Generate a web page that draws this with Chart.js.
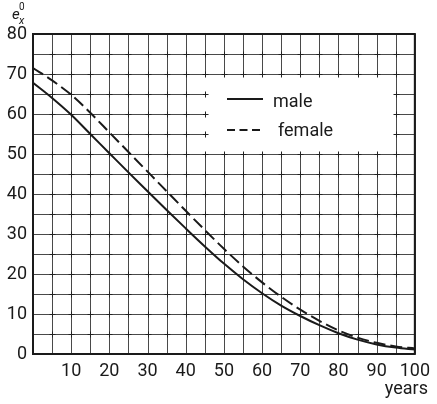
<!DOCTYPE html>
<html>
<head>
<meta charset="utf-8">
<script src="https://cdn.jsdelivr.net/npm/chart.js@4.4.1/dist/chart.umd.min.js"></script>
<style>
html,body{margin:0;padding:0;background:#fff;}
#wrap{width:437px;height:404px;position:relative;}
</style>
</head>
<body>
<div id="wrap"><canvas id="c" width="437" height="404"></canvas></div>
<script>
const ages   = [0,5,10,15,20,25,30,35,40,45,50,55,60,65,70,75,80,85,90,95,100];
const male   = [67.8,64.0,59.8,55.0,50.2,45.4,40.7,36.0,31.4,26.9,22.6,18.7,15.2,12.1,9.5,7.2,5.2,3.6,2.4,1.6,1.1];
const female = [71.5,68.4,64.8,60.3,55.4,50.5,45.6,40.7,35.8,31.0,26.3,21.9,17.9,14.3,11.1,8.3,5.9,4.1,2.8,1.9,1.4];
const seriesNames = ['male','female'];
const yTickLabels = [0,10,20,30,40,50,60,70,80];
const xTickLabels = [10,20,30,40,50,60,70,80,90,100];
const xAxisTitle = 'years';

const FONT = 'Roboto, "DejaVu Sans", sans-serif';
const INK = '#1a1a1a';

const toPts = arr => ages.map((a,i)=>({x:a,y:arr[i]}));

const framePlugin = {
  id:'frame',
  beforeDatasetsDraw(chart){
    const {ctx, chartArea:a, scales:{x,y}} = chart;
    ctx.save();
    // grid lines every 5 units, crisp
    ctx.strokeStyle = '#4a4a4a';
    ctx.lineWidth = 1;
    ctx.beginPath();
    x.ticks.forEach(t=>{
      const px = Math.round(x.getPixelForValue(t.value))+0.5;
      ctx.moveTo(px, a.top); ctx.lineTo(px, a.bottom);
    });
    y.ticks.forEach(t=>{
      const py = Math.round(y.getPixelForValue(t.value))+0.5;
      ctx.moveTo(a.left, py); ctx.lineTo(a.right, py);
    });
    ctx.stroke();
    // legend box (white)
    const l = x.getPixelForValue(45)-2, r = x.getPixelForValue(95)-1;
    const t = y.getPixelForValue(70)+1.5, b = y.getPixelForValue(50)-1;
    ctx.fillStyle = '#fff';
    ctx.fillRect(l,t,r-l,b-t);
    // crosses at grid intersections
    ctx.strokeStyle = '#222';
    ctx.lineWidth = 1;
    for(let xv=5; xv<100; xv+=5){
      for(let yv=5; yv<80; yv+=5){
        if (xv>45 && xv<95 && yv>50 && yv<70) continue;
        const px = Math.round(x.getPixelForValue(xv))+0.5;
        const py = Math.round(y.getPixelForValue(yv))+0.5;
        ctx.beginPath();
        ctx.moveTo(px-3,py); ctx.lineTo(px+3,py);
        ctx.moveTo(px,py-3); ctx.lineTo(px,py+3);
        ctx.stroke();
      }
    }
    // frame
    ctx.strokeStyle = INK;
    ctx.lineWidth = 2;
    ctx.strokeRect(a.left, a.top, a.right-a.left, a.bottom-a.top);
    // legend entries
    ctx.fillStyle = INK;
    ctx.font = '18px ' + FONT;
    ctx.textBaseline = 'alphabetic';
    ctx.textAlign = 'left';
    ctx.lineWidth = 2;
    ctx.strokeStyle = INK;
    ctx.beginPath(); ctx.moveTo(227,99); ctx.lineTo(263,99); ctx.stroke();
    ctx.fillText(seriesNames[0], 273, 107);
    ctx.setLineDash([8,4.5]);
    ctx.beginPath(); ctx.moveTo(227,130); ctx.lineTo(263,130); ctx.stroke();
    ctx.setLineDash([]);
    ctx.fillText(seriesNames[1], 278, 136);
    ctx.restore();
  },
  afterDraw(chart){
    const {ctx} = chart;
    ctx.save();
    ctx.fillStyle = INK;
    ctx.textBaseline = 'alphabetic';
    ctx.textAlign = 'right';
    ctx.font = '18px ' + FONT;
    ctx.fillText(xAxisTitle, 428, 394);
    ctx.textAlign = 'left';
    ctx.font = 'italic 15px ' + FONT;
    ctx.fillText('e', 12, 19);
    ctx.font = '10px ' + FONT;
    ctx.fillText('0', 19, 10);
    ctx.font = 'italic 11px ' + FONT;
    ctx.fillText('x', 19, 24);
    ctx.restore();
  }
};

new Chart(document.getElementById('c'), {
  type:'scatter',
  data:{
    datasets:[
      {label:seriesNames[0], data:toPts(male), showLine:true, borderColor:INK, borderWidth:2,
       pointRadius:0, cubicInterpolationMode:'monotone', fill:false},
      {label:seriesNames[1], data:toPts(female), showLine:true, borderColor:INK, borderWidth:2,
       borderDash:[12,5], pointRadius:0, cubicInterpolationMode:'monotone', fill:false}
    ]
  },
  options:{
    responsive:false,
    animation:false,
    layout:{padding:{top:34,right:18,left:0,bottom:0}},
    plugins:{legend:{display:false}, tooltip:{enabled:false}},
    scales:{
      x:{
        type:'linear', min:0, max:100,
        afterFit(s){ s.height = 50; },
        border:{display:false},
        grid:{display:false, drawTicks:false},
        afterBuildTicks(s){ s.ticks = []; for(let v=0; v<=100; v+=5) s.ticks.push({value:v}); },
        ticks:{
          padding:7, color:INK, font:{family:FONT, size:18},
          maxRotation:0, autoSkip:false,
          callback:(v)=> xTickLabels.includes(v) ? String(v) : ''
        }
      },
      y:{
        type:'linear', min:0, max:80,
        afterFit(s){ s.width = 33; },
        border:{display:false},
        grid:{display:false, drawTicks:false},
        afterBuildTicks(s){ s.ticks = []; for(let v=0; v<=80; v+=5) s.ticks.push({value:v}); },
        ticks:{
          padding:6, color:INK, font:{family:FONT, size:18},
          autoSkip:false,
          callback:(v)=> yTickLabels.includes(v) ? String(v) : ''
        }
      }
    }
  },
  plugins:[framePlugin]
});
</script>
</body>
</html>
